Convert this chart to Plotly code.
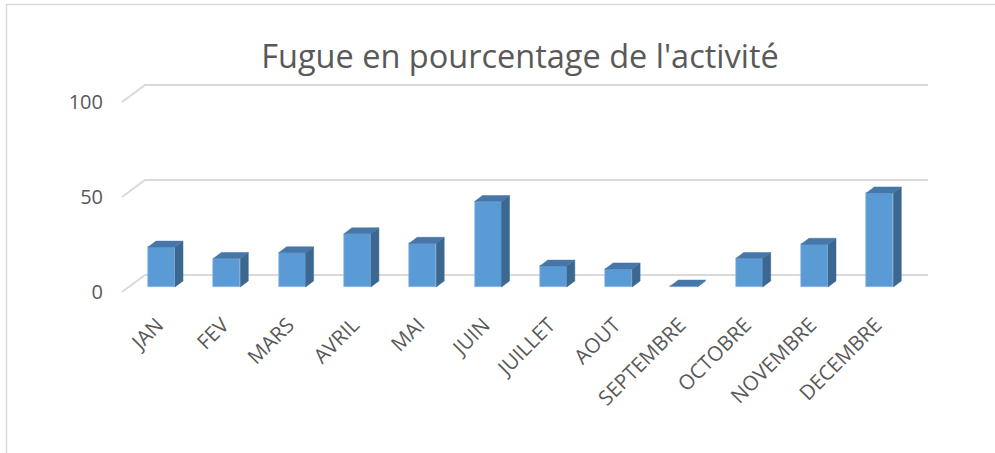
import plotly.graph_objects as go

# ---- data ----
months = ["JAN", "FEV", "MARS", "AVRIL", "MAI", "JUIN", "JUILLET", "AOUT",
          "SEPTEMBRE", "OCTOBRE", "NOVEMBRE", "DECEMBRE"]
values = [21, 15, 18, 28, 23, 45, 11, 9.5, 0.5, 15, 22.5, 49.5]
y_ticks = [0, 50, 100]
title_text = "Fugue en pourcentage de l'activité"

# ---- geometry (pixel measurements -> data units) ----
W, H = 995, 453
PX_CAT = 65.3      # pixels per category
PX_VAL = 1.9       # pixels per value unit
X0_PX = 161.5      # pixel x of first category center
Y0_PX = 292.0      # pixel y of value 0 on the front plane
L, R_PX, T, B_PX = 110, 960, 60, 300


def xd(px):
    return (px - X0_PX) / PX_CAT


def yd(py):
    return (Y0_PX - py) / PX_VAL


x_range = [xd(L), xd(R_PX)]
y_range = [yd(B_PX), yd(T)]

half_w = 13.5 / PX_CAT
base = 5 / PX_VAL
ddx = 8 / PX_CAT
ddy = 6 / PX_VAL

wall_front_x = xd(122)
wall_back_x = xd(145)
wall_right_x = xd(928)
wall_dy = 17 / PX_VAL

grid_color = "#D9D9D9"
text_color = "#595959"
front_color = "#5B9BD5"
top_color = "#4677A8"
side_color = "#3B6790"
FONT = "Open Sans"

fig = go.Figure()

# front faces
idx = list(range(len(months)))
fig.add_trace(go.Bar(
    x=idx, y=values, base=base, width=2 * half_w,
    marker=dict(color=front_color, line=dict(color="#8DB8E2", width=0.6)),
    hoverinfo="skip", showlegend=False,
))

# top and side faces
top_x, top_y, side_x, side_y = [], [], [], []
for i, v in zip(idx, values):
    xl, xr = i - half_w, i + half_w
    b, t = base, base + v
    top_x += [xl, xl + ddx, xr + ddx, xr, xl, None]
    top_y += [t, t + ddy, t + ddy, t, t, None]
    side_x += [xr, xr, xr + ddx, xr + ddx, xr, None]
    side_y += [b, t, t + ddy, b + ddy, b, None]

fig.add_trace(go.Scatter(x=side_x, y=side_y, mode="lines", fill="toself",
                         fillcolor=side_color, line=dict(color=side_color, width=0.5),
                         hoverinfo="skip", showlegend=False))
fig.add_trace(go.Scatter(x=top_x, y=top_y, mode="lines", fill="toself",
                         fillcolor=top_color, line=dict(color=top_color, width=0.5),
                         hoverinfo="skip", showlegend=False))

# 3D gridlines (below traces)
shapes = []
for v in y_ticks:
    path = (f"M {wall_front_x},{v} L {wall_back_x},{v + wall_dy} "
            f"L {wall_right_x},{v + wall_dy}")
    shapes.append(dict(type="path", path=path, xref="x", yref="y",
                       line=dict(color=grid_color, width=2), layer="below"))

# chart border
pw, ph = R_PX - L, B_PX - T
shapes.append(dict(type="rect", xref="paper", yref="paper",
                   x0=(6.5 - L) / pw, x1=(1010 - L) / pw,
                   y0=(B_PX - 470) / ph, y1=(B_PX - 4.5) / ph,
                   line=dict(color=grid_color, width=1.5), layer="below"))

fig.update_layout(
    width=W, height=H, autosize=False,
    margin=dict(l=L, r=W - R_PX, t=T, b=H - B_PX, pad=0),
    paper_bgcolor="white", plot_bgcolor="white",
    title=dict(text=title_text, x=520 / W, xanchor="center", xref="container",
               y=1 - 57 / H, yanchor="middle", yref="container",
               font=dict(family=FONT, size=32.5, color=text_color)),
    xaxis=dict(range=x_range, tickmode="array", tickvals=idx, ticktext=months,
               tickangle=-45, showgrid=False, zeroline=False, showline=False,
               ticks="", ticklabelstandoff=8, ticklabelshift=-4,
               tickfont=dict(family=FONT, size=20.5, color=text_color),
               fixedrange=True),
    yaxis=dict(range=y_range, tickmode="array", tickvals=y_ticks,
               showgrid=False, zeroline=False, showline=False, ticks="",
               ticklabelstandoff=6,
               tickfont=dict(family=FONT, size=20, color=text_color),
               fixedrange=True),
    shapes=shapes,
    bargap=0,
)

fig.write_html("out.html", config={"displayModeBar": False},
               post_script="document.body.style.margin='0';")
